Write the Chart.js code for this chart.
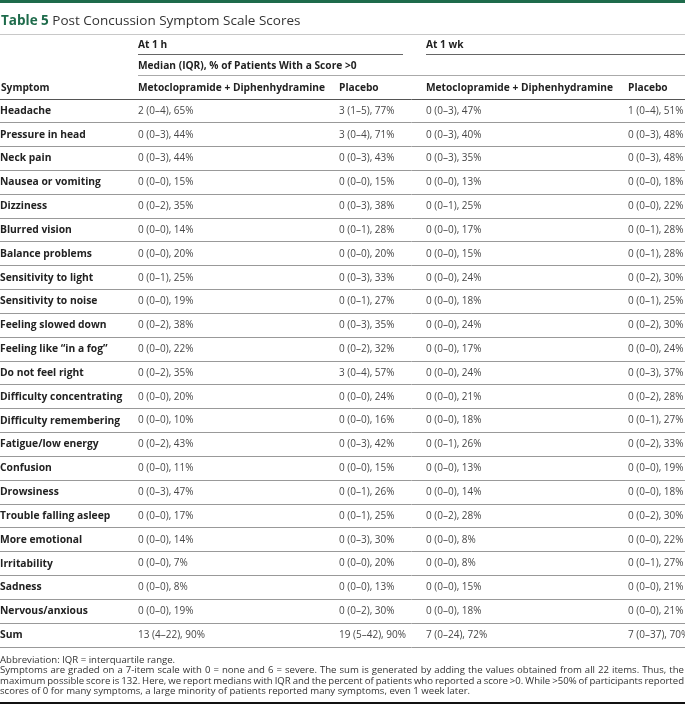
<!DOCTYPE html>
<html>
<head>
<meta charset="utf-8">
<script src="https://cdn.jsdelivr.net/npm/chart.js@4.4.1/dist/chart.umd.min.js"></script>
<style>
  body { margin: 0; background: #fff; }
  #tabla { display: block; }
</style>
</head>
<body>
<canvas id="tabla" width="685" height="713"></canvas>
<script>
const symptoms = [
  "Headache", "Pressure in head", "Neck pain", "Nausea or vomiting", "Dizziness",
  "Blurred vision", "Balance problems", "Sensitivity to light", "Sensitivity to noise",
  "Feeling slowed down", "Feeling like \u201cin a fog\u201d", "Do not feel right",
  "Difficulty concentrating", "Difficulty remembering", "Fatigue/low energy",
  "Confusion", "Drowsiness", "Trouble falling asleep", "More emotional",
  "Irritability", "Sadness", "Nervous/anxious", "Sum",
];

const columnNames = [
  "Metoclopramide + Diphenhydramine", "Placebo",
  "Metoclopramide + Diphenhydramine", "Placebo",
];

// median (IQR), % of patients with a score >0
const drug1h = [
  "2 (0–4), 65%", "0 (0–3), 44%", "0 (0–3), 44%", "0 (0–0), 15%", "0 (0–2), 35%",
  "0 (0–0), 14%", "0 (0–0), 20%", "0 (0–1), 25%", "0 (0–0), 19%", "0 (0–2), 38%",
  "0 (0–0), 22%", "0 (0–2), 35%", "0 (0–0), 20%", "0 (0–0), 10%", "0 (0–2), 43%",
  "0 (0–0), 11%", "0 (0–3), 47%", "0 (0–0), 17%", "0 (0–0), 14%", "0 (0–0), 7%",
  "0 (0–0), 8%", "0 (0–0), 19%", "13 (4–22), 90%",
];
const placebo1h = [
  "3 (1–5), 77%", "3 (0–4), 71%", "0 (0–3), 43%", "0 (0–0), 15%", "0 (0–3), 38%",
  "0 (0–1), 28%", "0 (0–0), 20%", "0 (0–3), 33%", "0 (0–1), 27%", "0 (0–3), 35%",
  "0 (0–2), 32%", "3 (0–4), 57%", "0 (0–0), 24%", "0 (0–0), 16%", "0 (0–3), 42%",
  "0 (0–0), 15%", "0 (0–1), 26%", "0 (0–1), 25%", "0 (0–3), 30%", "0 (0–0), 20%",
  "0 (0–0), 13%", "0 (0–2), 30%", "19 (5–42), 90%",
];
const drug1wk = [
  "0 (0–3), 47%", "0 (0–3), 40%", "0 (0–3), 35%", "0 (0–0), 13%", "0 (0–1), 25%",
  "0 (0–0), 17%", "0 (0–0), 15%", "0 (0–0), 24%", "0 (0–0), 18%", "0 (0–0), 24%",
  "0 (0–0), 17%", "0 (0–0), 24%", "0 (0–0), 21%", "0 (0–0), 18%", "0 (0–1), 26%",
  "0 (0–0), 13%", "0 (0–0), 14%", "0 (0–2), 28%", "0 (0–0), 8%", "0 (0–0), 8%",
  "0 (0–0), 15%", "0 (0–0), 18%", "7 (0–24), 72%",
];
const placebo1wk = [
  "1 (0–4), 51%", "0 (0–3), 48%", "0 (0–3), 48%", "0 (0–0), 18%", "0 (0–0), 22%",
  "0 (0–1), 28%", "0 (0–1), 28%", "0 (0–2), 30%", "0 (0–1), 25%", "0 (0–2), 30%",
  "0 (0–0), 24%", "0 (0–3), 37%", "0 (0–2), 28%", "0 (0–1), 27%", "0 (0–2), 33%",
  "0 (0–0), 19%", "0 (0–0), 18%", "0 (0–2), 30%", "0 (0–0), 22%", "0 (0–1), 27%",
  "0 (0–0), 21%", "0 (0–0), 21%", "7 (0–37), 70%",
];

const footnotes = [
  "Abbreviation: IQR = interquartile range.",
  "Symptoms are graded on a 7-item scale with 0 = none and 6 = severe. The sum is generated by adding the values obtained from all 22 items. Thus, the",
  "maximum possible score is 132. Here, we report medians with IQR and the percent of patients who reported a score >0. While >50% of participants reported",
  "scores of 0 for many symptoms, a large minority of patients reported many symptoms, even 1 week later.",
];

const columns = [drug1h, placebo1h, drug1wk, placebo1wk];

// layout only: left edge of each column in px from the start of the plot area
const colOffsets = [0, 201, 288, 490];
const FONT = "'Open Sans', sans-serif";
const GREEN = "#1e6b4b";

function justify(ctx, text, x, y, width) {
  const words = text.split(" ");
  const used = words.reduce((a, w) => a + ctx.measureText(w).width, 0);
  const gap = (width - used) / (words.length - 1);
  let cx = x;
  words.forEach((w) => {
    ctx.fillText(w, cx, y);
    cx += ctx.measureText(w).width + gap;
  });
}

const tablePlugin = {
  id: "tablePlugin",
  afterDatasetsDraw(chart) {
    const ctx = chart.ctx;
    ctx.save();
    ctx.font = "400 10px " + FONT;
    ctx.fillStyle = "#474747";
    ctx.textAlign = "left";
    ctx.textBaseline = "middle";
    chart.data.datasets.forEach((ds, j) => {
      chart.getDatasetMeta(j).data.forEach((pt, i) => {
        ctx.fillText(ds.cells[i], pt.x, pt.y);
      });
    });
    ctx.restore();
  },
  afterDraw(chart) {
    const ctx = chart.ctx;
    const area = chart.chartArea;
    const xs = chart.scales.x;
    const W = chart.width;
    const colX = colOffsets.map((o) => xs.getPixelForValue(o));
    ctx.save();

    // green band on top
    ctx.fillStyle = GREEN;
    ctx.fillRect(0, 0, W, 3);

    // title
    ctx.textBaseline = "middle";
    ctx.textAlign = "left";
    ctx.font = "700 13.5px " + FONT;
    ctx.fillStyle = GREEN;
    ctx.fillText("Table 5", 1, 21);
    const tw = ctx.measureText("Table 5 ").width;
    ctx.font = "400 13.5px " + FONT;
    ctx.fillStyle = "#333";
    ctx.fillText("Post Concussion Symptom Scale Scores", 1 + tw, 21);

    ctx.fillStyle = "#c8c8c8";
    ctx.fillRect(0, 34, W, 1);

    // header rows
    ctx.font = "700 10.2px " + FONT;
    ctx.fillStyle = "#222";
    ctx.fillText("At 1 h", colX[0], 45);
    ctx.fillText("At 1 wk", colX[2], 45);
    ctx.fillStyle = "#666";
    ctx.fillRect(colX[0], 54, colX[2] - colX[0] - 23, 1);
    ctx.fillRect(colX[2], 54, W - colX[2], 1);

    ctx.fillStyle = "#222";
    ctx.fillText("Median (IQR), % of Patients With a Score >0", colX[0], 66);
    ctx.fillStyle = "#aaa";
    ctx.fillRect(colX[0], 75, W - colX[0], 1);

    ctx.fillStyle = "#222";
    ctx.fillText("Symptom", 1, 88);
    columnNames.forEach((name, j) => ctx.fillText(name, colX[j], 88));

    // footnotes
    ctx.font = "400 9.6px " + FONT;
    ctx.fillStyle = "#333";
    const fy = area.bottom + 13;
    footnotes.forEach((line, k) => {
      const y = fy + k * 10.5;
      if (k === 1 || k === 2) justify(ctx, line, 0, y, W - 1);
      else ctx.fillText(line, 0, y);
    });

    ctx.fillStyle = "#111";
    ctx.fillRect(0, 702, W, 2);
    ctx.restore();
  },
};

document.addEventListener("DOMContentLoaded", function () {
  const ctx = document.getElementById("tabla").getContext("2d");
  const lastLine = symptoms.length;

  new Chart(ctx, {
    type: "scatter",
    data: {
      datasets: columns.map((cells, j) => ({
        label: columnNames[j],
        cells: cells,
        data: symptoms.map((s) => ({ x: colOffsets[j], y: s })),
        pointRadius: 0,
      })),
    },
    options: {
      responsive: false,
      animation: false,
      devicePixelRatio: 1,
      layout: { padding: { top: 99, bottom: 66, left: 0, right: 0 } },
      plugins: {
        legend: { display: false },
        tooltip: { enabled: false },
      },
      scales: {
        x: { type: "linear", min: 0, max: 547, display: false },
        y: {
          type: "category",
          labels: symptoms,
          offset: true,
          position: "left",
          border: { display: false },
          grid: {
            offset: true,
            drawTicks: true,
            tickLength: 138,
            lineWidth: 1,
            color: (c) => (c.index === 0 || c.index === lastLine ? "#555" : "#999"),
          },
          ticks: {
            crossAlign: "far",
            padding: 0,
            color: "#222",
            font: { family: "'Open Sans', sans-serif", size: 10.3, weight: "700" },
          },
          afterFit: (scale) => {
            scale.width = 138;
          },
        },
      },
    },
    plugins: [tablePlugin],
  });
});
</script>
</body>
</html>
